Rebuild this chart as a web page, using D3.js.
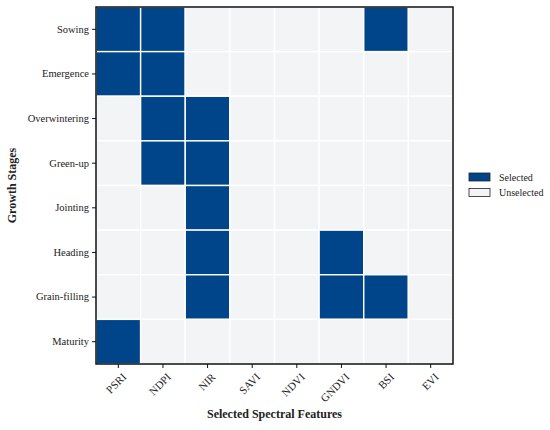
<!DOCTYPE html>
<html>
<head>
<meta charset="utf-8">
<script src="https://cdn.jsdelivr.net/npm/d3@7"></script>
<style>
  body { margin: 0; background: #fff; }
  svg text { font-family: "Liberation Serif", "Times New Roman", serif; fill: #222; }
</style>
</head>
<body>
<div id="wrapper"></div>
<script>
const stages = ["Sowing", "Emergence", "Overwintering", "Green-up", "Jointing", "Heading", "Grain-filling", "Maturity"];
const features = ["PSRI", "NDPI", "NIR", "SAVI", "NDVI", "GNDVI", "BSI", "EVI"];
// 1 = selected, 0 = unselected (row per stage, column per feature)
const selection = [
  [1, 1, 0, 0, 0, 0, 1, 0],
  [1, 1, 0, 0, 0, 0, 0, 0],
  [0, 1, 1, 0, 0, 0, 0, 0],
  [0, 1, 1, 0, 0, 0, 0, 0],
  [0, 0, 1, 0, 0, 0, 0, 0],
  [0, 0, 1, 0, 0, 1, 0, 0],
  [0, 0, 1, 0, 0, 1, 1, 0],
  [1, 0, 0, 0, 0, 0, 0, 0]
];
const legendLabels = ["Selected", "Unselected"];

function build() {
  const dimension = {
    width: 550,
    height: 430,
    margin: { top: 7, right: 97, bottom: 66, left: 96 }
  };
  dimension.boundedWidth = dimension.width - dimension.margin.left - dimension.margin.right;
  dimension.boundedHeight = dimension.height - dimension.margin.top - dimension.margin.bottom;

  const serif = '"Liberation Serif", "Times New Roman", serif';
  const colors = { 1: "#00458a", 0: "#f3f4f6" };

  const data = selection.flatMap((row, y) =>
    row.map((v, x) => ({ stage: stages[y], feature: features[x], value: v })));

  const wrapper = d3.select("#wrapper")
    .append("svg")
    .attr("width", dimension.width)
    .attr("height", dimension.height)
    .style("font-family", serif);

  const bounds = wrapper.append("g")
    .attr("transform", `translate(${dimension.margin.left},${dimension.margin.top})`);

  const xScale = d3.scaleBand().domain(features).range([0, dimension.boundedWidth]);
  const yScale = d3.scaleBand().domain(stages).range([0, dimension.boundedHeight]);

  bounds.selectAll("rect.cell")
    .data(data)
    .enter()
    .append("rect")
    .attr("class", "cell")
    .attr("x", d => xScale(d.feature))
    .attr("y", d => yScale(d.stage))
    .attr("width", xScale.bandwidth())
    .attr("height", yScale.bandwidth())
    .attr("fill", d => colors[d.value])
    .attr("stroke", "#fff")
    .attr("stroke-width", 1.4);

  // frame
  bounds.append("rect")
    .attr("width", dimension.boundedWidth)
    .attr("height", dimension.boundedHeight)
    .attr("fill", "none")
    .attr("stroke", "#111")
    .attr("stroke-width", 1.5);

  const xAxis = bounds.append("g")
    .attr("transform", `translate(0,${dimension.boundedHeight})`)
    .call(d3.axisBottom(xScale).tickSize(4).tickPadding(3));
  xAxis.attr("font-family", null).attr("font-size", null);
  xAxis.select(".domain").remove();
  xAxis.selectAll(".tick line").attr("stroke", "#111").attr("stroke-width", 1);
  xAxis.selectAll("text")
    .style("font-size", "11px")
    .style("font-family", serif)
    .attr("fill", "#222")
    .attr("x", 0)
    .attr("y", 0)
    .attr("dy", "0.35em")
    .attr("text-anchor", "end")
    .attr("transform", "translate(6,11) rotate(-45)");

  const yAxis = bounds.append("g")
    .call(d3.axisLeft(yScale).tickSize(4).tickPadding(3));
  yAxis.attr("font-family", null).attr("font-size", null);
  yAxis.select(".domain").remove();
  yAxis.selectAll(".tick line").attr("stroke", "#111").attr("stroke-width", 1);
  yAxis.selectAll("text")
    .style("font-size", "10.5px")
    .style("font-family", serif)
    .attr("fill", "#222");

  wrapper.append("text")
    .attr("x", dimension.margin.left + dimension.boundedWidth / 2)
    .attr("y", 418)
    .attr("text-anchor", "middle")
    .style("font-size", "12px")
    .style("font-weight", "bold")
    .text("Selected Spectral Features");

  wrapper.append("text")
    .attr("transform", `translate(16,${dimension.margin.top + dimension.boundedHeight / 2}) rotate(-90)`)
    .attr("text-anchor", "middle")
    .style("font-size", "12px")
    .style("font-weight", "bold")
    .text("Growth Stages");

  const legend = wrapper.append("g")
    .attr("transform", "translate(469,173)");
  const items = legend.selectAll("g")
    .data(legendLabels)
    .enter()
    .append("g")
    .attr("transform", (d, i) => `translate(0,${i * 15.5})`);
  items.append("rect")
    .attr("width", 21)
    .attr("height", 8)
    .attr("fill", (d, i) => colors[1 - i])
    .attr("stroke", "#222")
    .attr("stroke-width", 0.8);
  items.append("text")
    .attr("x", 30)
    .attr("y", 7.5)
    .style("font-size", "10px")
    .text(d => d);
}

build();
</script>
</body>
</html>
